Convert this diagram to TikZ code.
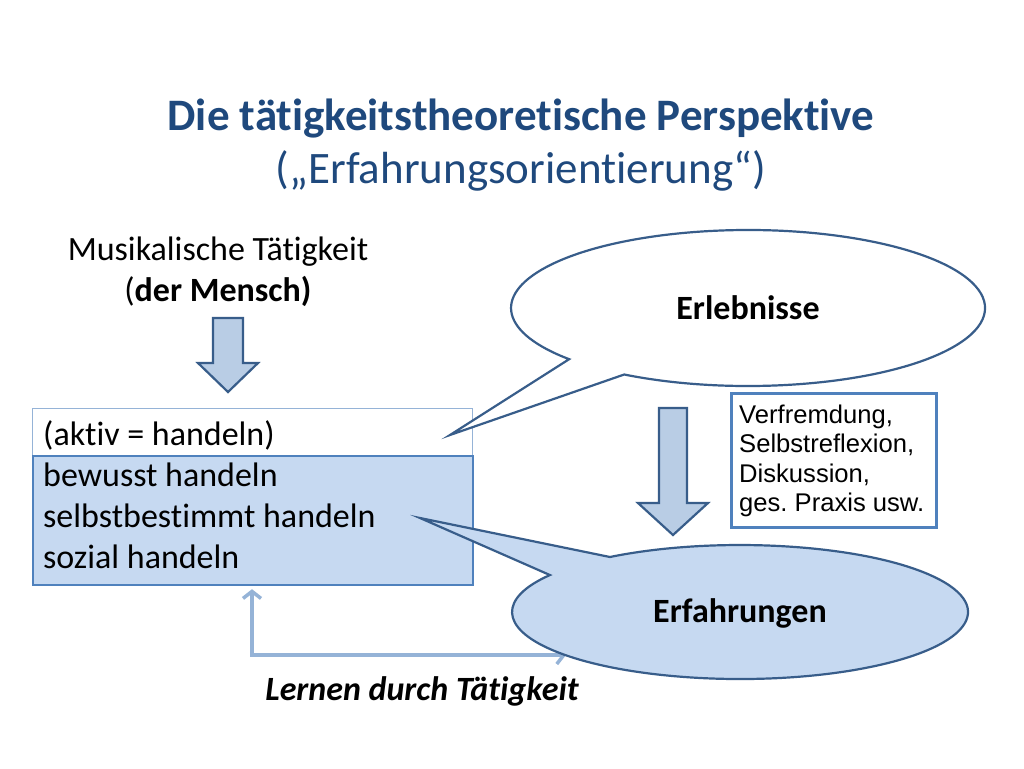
\documentclass[tikz,border=0pt]{standalone}
\usepackage{fontspec}
\setmainfont{Carlito}[Ligatures=CommonOff, Contextuals=AlternateOff]
\newfontfamily\arialf{Liberation Sans}
\usetikzlibrary{arrows.meta,calc}
\definecolor{titleblue}{HTML}{1F497D}
\definecolor{darkline}{HTML}{385D8A}
\definecolor{midline}{HTML}{4F81BD}
\definecolor{lightfill}{HTML}{C6D9F1}
\definecolor{arrowfill}{HTML}{B9CDE5}
\definecolor{fbblue}{HTML}{95B3D7}
\newcommand{\tIx}{t\kern0pt i}
\frenchspacing
\begin{document}
\begin{tikzpicture}[x=1pt,y=-1pt,
  titlefont/.style={font=\fontsize{45}{53}\selectfont, text=titleblue, inner sep=0pt},
  bodytext/.style={font=\fontsize{34}{41}\selectfont, inner sep=0pt},
  arialtext/.style={font=\arialf\fontsize{25.6}{29.5}\selectfont, inner sep=0pt},
  blockarrow/.style={draw=darkline, fill=arrowfill, line width=2.2pt, line join=miter},
  bubble/.style={draw=darkline, line width=2.2pt, line join=miter},
  whitebox/.style={draw=fbblue, line width=0.8pt, fill=white, inner sep=0pt},
  bluebox/.style={draw=midline, line width=2.2pt, fill=lightfill, inner sep=0pt},
  notebox/.style={draw=midline, line width=3pt, fill=white, inner sep=0pt},
  feedback/.style={draw=fbblue, line width=3.5pt, {Straight Barb[length=7pt,width=18pt,line width=3.5pt]}-{Straight Barb[length=7pt,width=18pt,line width=3.5pt]}}
]
\useasboundingbox[fill=white] (0,0) rectangle (1024,768);

% title
\node[titlefont, anchor=base] (t1) at (521,130) {\bfseries Die tä\tIx gkeitstheore\tIx sche Perspek\tIx ve};
\node[titlefont, anchor=base] (t2) at (521,183) {(„Erfahrungsorien\tIx erung“)};

% top left label
\node[bodytext, anchor=base] (m1) at (218,260) {Musikalische Tä\tIx gkeit};
\node[bodytext, anchor=base] (m2) at (218,301) {(\textbf{der Mensch)}};

% top block arrow
\draw[blockarrow] (213,318) -- (243,318) -- (243,363) -- (258,363) -- (228,392) -- (198,363) -- (213,363) -- cycle;

% boxes
\node[whitebox, minimum width=440pt, minimum height=47pt, anchor=north west] (topbox) at (32,408) {};
\node[bluebox, minimum width=440pt, minimum height=129pt, anchor=north west] (bbox) at (32,455) {};
\node[bodytext, anchor=base west] (l0) at (43,445) {(ak\tIx v = handeln)};
\node[bodytext, anchor=base west] (l1) at (43,486) {bewusst handeln};
\node[bodytext, anchor=base west] (l2) at (43,527) {selbstbestimmt handeln};
\node[bodytext, anchor=base west] (l3) at (43,568) {sozial handeln};

% right block arrow
\draw[blockarrow] (659,408) -- (687,408) -- (687,503) -- (708,503) -- (673,535) -- (638,503) -- (659,503) -- cycle;

% note box
\node[notebox, minimum width=205pt, minimum height=134pt, anchor=north west] (note) at (730,392) {};
\node[arialtext, anchor=base west] (n1) at (739,423) {Verfremdung,};
\node[arialtext, anchor=base west] (n2) at (739,452) {Selbstreflexion,};
\node[arialtext, anchor=base west] (n3) at (739,482) {Diskussion,};
\node[arialtext, anchor=base west] (n4) at (739,511) {ges. Praxis usw.};

% Erlebnisse callout
\coordinate (erltip) at (450,435);
\filldraw[bubble, fill=white] (erltip) -- (624.2,374.5) arc[start angle=121.5, end angle=-221, x radius=237, y radius=78] -- cycle;
\node[bodytext, font=\bfseries\fontsize{34}{41}\selectfont, anchor=base] (erl) at (748,319) {Erlebnisse};

% feedback arrow (drawn beneath the Erfahrungen callout)
\coordinate (fbend) at (566,655);
\coordinate (fbtop) at ($(bbox.south west)+(220,3)$);
\draw[feedback] (fbend) -| (fbtop);

% Erfahrungen callout
\coordinate (erftip) at (420,518);
\filldraw[bubble, fill=lightfill] (erftip) -- (609.9,557.0) arc[start angle=-124.8, end angle=213.5, x radius=228, y radius=67] -- cycle;
\node[bodytext, font=\bfseries\fontsize{34}{41}\selectfont, anchor=base] (erf) at (740,622) {Erfahrungen};

% caption
\node[bodytext, font=\bfseries\itshape\fontsize{34}{41}\selectfont, anchor=base] (cap) at (422,700) {Lernen durch Tä\tIx gkeit};
\end{tikzpicture}
\end{document}
